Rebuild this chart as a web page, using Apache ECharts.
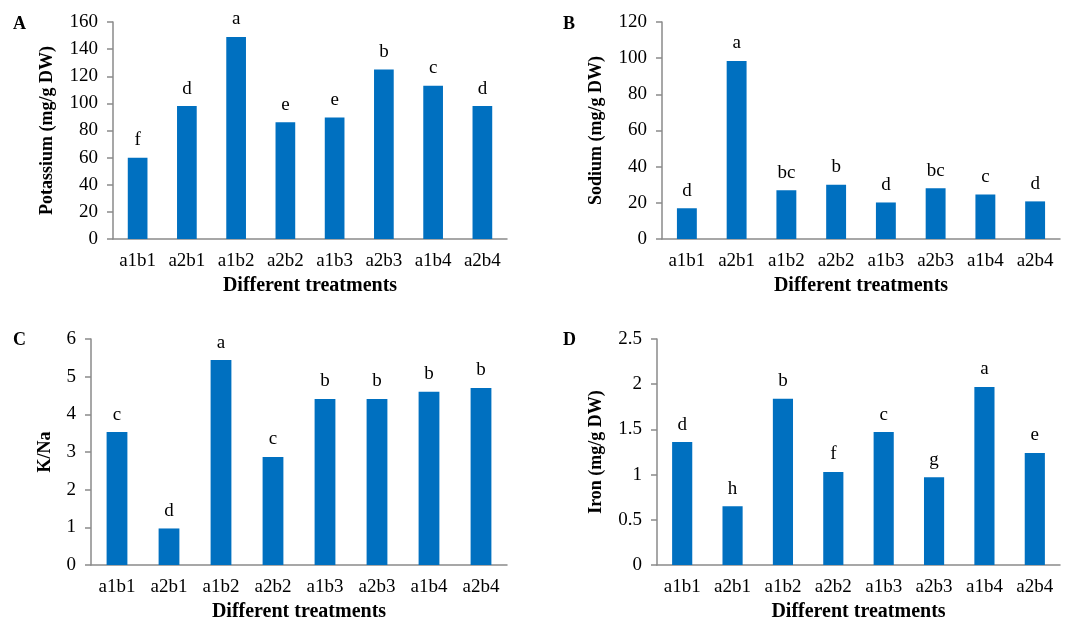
<!DOCTYPE html>
<html>
<head>
<meta charset="utf-8">
<title>Mineral content under different treatments</title>
<script src="https://cdn.jsdelivr.net/npm/echarts@6/dist/echarts.min.js"></script>
<style>
  html, body { margin: 0; padding: 0; background: #ffffff; }
  #chart { width: 1080px; height: 623px; }
</style>
</head>
<body>
<div id="chart"></div>
<script>
// Treatment combinations on the category axis
const categories = ['a1b1', 'a2b1', 'a1b2', 'a2b2', 'a1b3', 'a2b3', 'a1b4', 'a2b4'];

// A: potassium content (mg/g DW) with significance letters
const potassium = [60, 98, 149, 86, 89.5, 125, 113, 98];
const potassiumLetters = ['f', 'd', 'a', 'e', 'e', 'b', 'c', 'd'];

// B: sodium content (mg/g DW)
const sodium = [17, 98.5, 27, 30, 20.2, 28, 24.6, 20.8];
const sodiumLetters = ['d', 'a', 'bc', 'b', 'd', 'bc', 'c', 'd'];

// C: K/Na ratio
const kna = [3.53, 0.97, 5.44, 2.87, 4.41, 4.41, 4.6, 4.7];
const knaLetters = ['c', 'd', 'a', 'c', 'b', 'b', 'b', 'b'];

// D: iron content (mg/g DW)
const iron = [1.36, 0.65, 1.84, 1.03, 1.47, 0.97, 1.97, 1.24];
const ironLetters = ['d', 'h', 'b', 'f', 'c', 'g', 'a', 'e'];

const FONT = '"Liberation Serif", "Times New Roman", serif';
const BAR = '#0070C0';
const AXIS = '#8a8a8a';

const panels = [
  { tag: 'A', name: 'Potassium (mg/g DW)', values: potassium, letters: potassiumLetters,
    max: 160, interval: 20, nameGap: 57,
    grid: { left: 113, top: 22, right: 573, bottom: 384 }, tagPos: [13, 15] },
  { tag: 'B', name: 'Sodium (mg/g DW)', values: sodium, letters: sodiumLetters,
    max: 120, interval: 20, nameGap: 57,
    grid: { left: 662, top: 22, right: 20, bottom: 384 }, tagPos: [563, 15] },
  { tag: 'C', name: 'K/Na', values: kna, letters: knaLetters,
    max: 6, interval: 1, nameGap: 37,
    grid: { left: 91, top: 339, right: 573, bottom: 57 }, tagPos: [13, 331] },
  { tag: 'D', name: 'Iron (mg/g DW)', values: iron, letters: ironLetters,
    max: 2.5, interval: 0.5, nameGap: 52,
    grid: { left: 657, top: 339, right: 20, bottom: 57 }, tagPos: [563, 331] }
];

const option = {
  backgroundColor: '#ffffff',
  animation: false,
  textStyle: { fontFamily: FONT, color: '#000' },
  graphic: panels.map(p => ({
    type: 'text', left: p.tagPos[0], top: p.tagPos[1],
    style: { text: p.tag, font: 'bold 18px ' + FONT, fill: '#000' }
  })),
  grid: panels.map(p => Object.assign({ containLabel: false }, p.grid)),
  xAxis: panels.map((p, i) => ({
    type: 'category', gridIndex: i, data: categories,
    name: 'Different treatments', nameLocation: 'middle', nameGap: 37,
    nameTextStyle: { fontFamily: FONT, fontWeight: 'bold', fontSize: 20, color: '#000' },
    axisLine: { lineStyle: { color: AXIS, width: 1.5 } },
    axisTick: { show: false },
    axisLabel: { fontFamily: FONT, fontSize: 19, color: '#000', margin: 13 }
  })),
  yAxis: panels.map((p, i) => ({
    type: 'value', gridIndex: i, min: 0, max: p.max, interval: p.interval,
    name: p.name, nameLocation: 'middle', nameGap: p.nameGap, nameRotate: 90,
    nameTextStyle: { fontFamily: FONT, fontWeight: 'bold', fontSize: 18, color: '#000' },
    splitLine: { show: false },
    axisLine: { show: true, lineStyle: { color: AXIS, width: 1.5 } },
    axisTick: { show: true, inside: false, length: 6, lineStyle: { color: AXIS, width: 1.5 } },
    axisLabel: { fontFamily: FONT, fontSize: 19, color: '#000', margin: 15 }
  })),
  series: panels.map((p, i) => ({
    type: 'bar', xAxisIndex: i, yAxisIndex: i, data: p.values,
    barWidth: '40%',
    itemStyle: { color: BAR },
    label: {
      show: true, position: 'top', distance: 8,
      fontFamily: FONT, fontSize: 19, color: '#000',
      formatter: (d) => p.letters[d.dataIndex]
    }
  }))
};

const chart = echarts.init(document.getElementById('chart'), null, { renderer: 'canvas' });
chart.setOption(option);
</script>
</body>
</html>
